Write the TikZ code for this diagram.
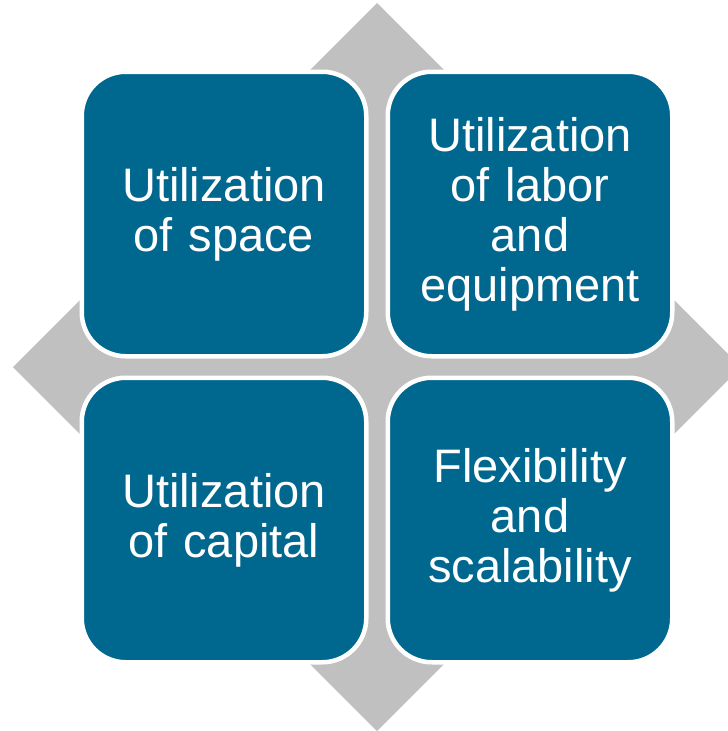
\documentclass[tikz,border=0pt]{standalone}
\usepackage{fontspec}
\setmainfont{Liberation Sans}
\definecolor{cellblue}{RGB}{0,103,143}
\definecolor{diamgray}{RGB}{192,192,192}
\begin{document}
\begin{tikzpicture}[x=1pt,y=-1pt,
  cell/.style={fill=cellblue, draw=white, line width=4.5pt, rounded corners=44pt,
    minimum width=284.5pt, minimum height=284.5pt, inner sep=0pt, text=white,
    font=\fontsize{47}{50}\selectfont, align=center, text width=270pt}]
\useasboundingbox (0,0) rectangle (728,731);
\fill[diamgray] (377,3) -- (741,367) -- (377,731) -- (13,367) -- cycle;
\node[cell] (tl) at (224,214) {Utilization\\of space};
\node[cell] (tr) at (530,214) {Utilization\\of labor\\and\\equipment};
\node[cell] (bl) at (224,520) {Utilization\\of capital};
\node[cell] (br) at (530,520) {Flexibility\\and\\scalability};
\end{tikzpicture}
\end{document}
